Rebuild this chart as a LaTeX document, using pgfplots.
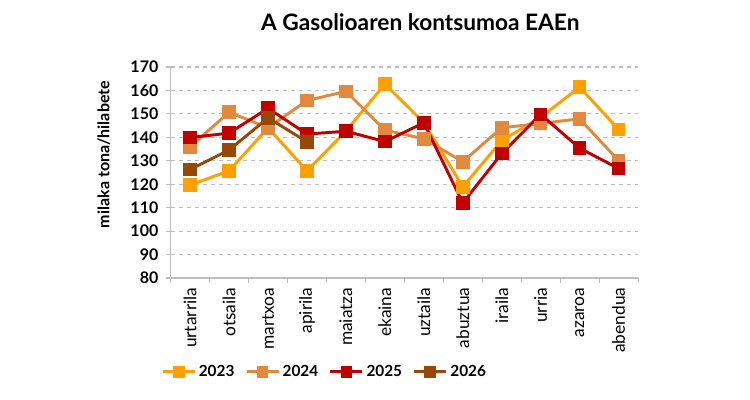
\documentclass[border=0pt]{standalone}
\usepackage{pgfplots}
\pgfplotsset{compat=1.18}
\usepackage{fontspec}
\setmainfont{Lato}
\definecolor{c23}{RGB}{255,160,0}
\definecolor{c24}{RGB}{226,137,64}
\definecolor{c25}{RGB}{192,0,0}
\definecolor{c26}{RGB}{151,71,6}
\definecolor{gridc}{RGB}{190,190,190}
\begin{document}
\begin{tikzpicture}[x=0.75pt,y=0.75pt]
\path[use as bounding box] (-170.7,-122) rectangle (579.3,278);
\begin{axis}[
  at={(0,0)}, anchor=south west,
  scale only axis, width=350.5pt, height=158.25pt,
  xmin=-0.5, xmax=11.5, ymin=80, ymax=170,
  ytick={80,90,...,170},
  xtick={0,...,11},
  xticklabels={urtarrila,otsaila,martxoa,apirila,maiatza,ekaina,uztaila,abuztua,iraila,urria,azaroa,abendua},
  minor xtick={-0.5,0.5,...,11.5},
  major x tick style={draw=none},
  x tick label style={rotate=90, anchor=east, font=\fontsize{13}{14}\selectfont},
  y tick label style={font=\fontsize{12}{13}\selectfont\bfseries, xshift=-2pt},
  /pgf/number format/assume math mode=true,
  tick align=outside,
  major tick length=3.75pt, minor tick length=3.75pt,
  tick style={gridc, line width=0.8pt},
  axis x line*=bottom, axis y line*=left,
  axis line style={gridc, line width=1pt, -},
  ymajorgrids, major grid style={gridc, dashed, line width=0.8pt, dash pattern=on 3.5pt off 2.5pt},
  title={A Gasolioaren kontsumoa EAEn},
  title style={at={(0.534,1.175)}, anchor=center, font=\fontsize{17}{20}\selectfont\bfseries},
  ylabel={milaka tona/hilabete},
  ylabel style={at={(-0.143,0.585)}, anchor=center, rotate=0, font=\fontsize{12}{13}\selectfont\bfseries},
  legend style={at={(0.33,-0.445)}, anchor=center, draw=none, legend columns=4,
    font=\fontsize{11.5}{12}\selectfont\bfseries, /tikz/every even column/.append style={column sep=6pt}},
  legend image code/.code={\draw[#1, mark repeat=2, mark phase=2, mark size=3.3pt] plot coordinates {(0pt,0pt)(12pt,0pt)(24pt,0pt)};},
  every axis plot/.append style={line width=2.2pt, mark=square*, mark size=4pt, mark options={solid}},
  clip=false,
]
\addplot[color=c23] coordinates {(0,119.7)(1,125.7)(2,144.1)(3,125.7)(4,142.7)(5,162.7)(6,146.3)(7,118.9)(8,138.6)(9,148.6)(10,161.4)(11,143.4)};
\addlegendentry{2023}
\addplot[color=c24] coordinates {(0,136)(1,150.7)(2,144.1)(3,155.7)(4,159.6)(5,143.1)(6,139.4)(7,129.6)(8,144.1)(9,145.9)(10,147.9)(11,130.1)};
\addlegendentry{2024}
\addplot[color=c25] coordinates {(0,139.9)(1,141.8)(2,152.4)(3,141.4)(4,142.6)(5,138.2)(6,146.2)(7,112.0)(8,133.1)(9,149.8)(10,135.4)(11,126.7)};
\addlegendentry{2025}
\addplot[color=c26] coordinates {(0,126.3)(1,134.6)(2,148.3)(3,138.1)};
\addlegendentry{2026}
\end{axis}
\end{tikzpicture}
\end{document}
